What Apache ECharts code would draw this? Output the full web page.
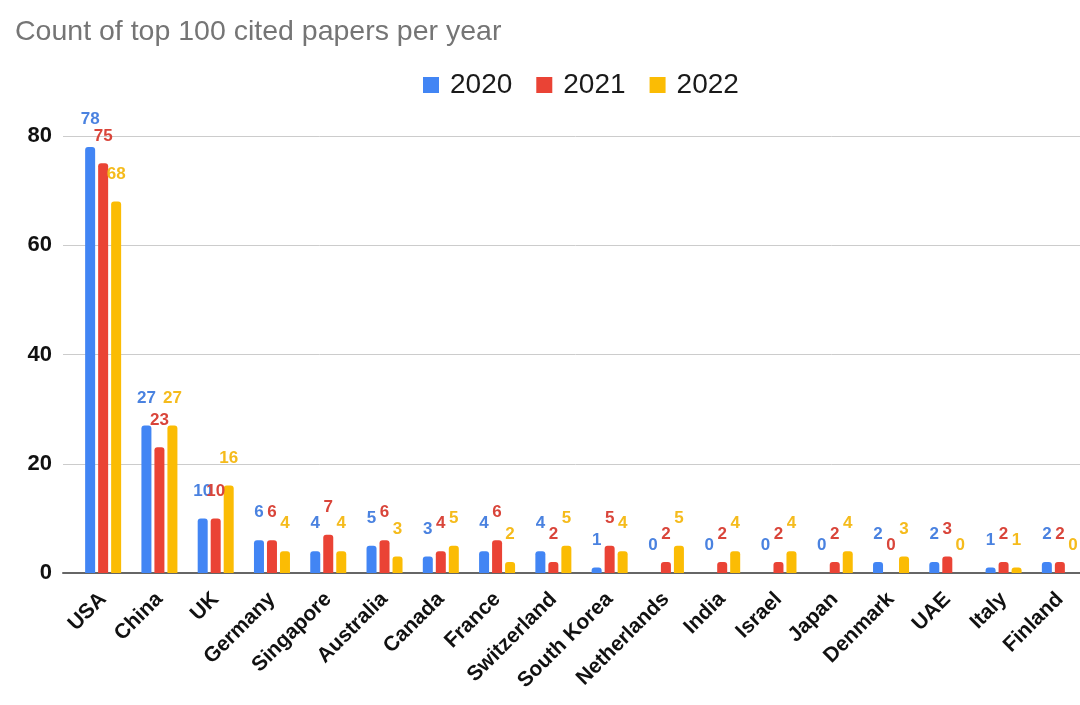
<!DOCTYPE html>
<html>
<head>
<meta charset="utf-8">
<script src="https://cdn.jsdelivr.net/npm/echarts@6/dist/echarts.min.js"></script>
<style>
html,body{margin:0;padding:0;background:#fff;overflow:hidden;width:1080px;height:705px;}
#chart{width:1090px;height:705px;}
</style>
</head>
<body>
<div id="chart"></div>
<script>
const categories = ["USA","China","UK","Germany","Singapore","Australia","Canada","France","Switzerland","South Korea","Netherlands","India","Israel","Japan","Denmark","UAE","Italy","Finland"];
const values2020 = [78,27,10,6,4,5,3,4,4,1,0,0,0,0,2,2,1,2];
const values2021 = [75,23,10,6,7,6,4,6,2,5,2,2,2,2,0,3,2,2];
const values2022 = [68,27,16,4,4,3,5,2,5,4,5,4,4,4,3,0,1,0];
const yTicks = [0,20,40,60,80];

const colors = ['#4285F4','#EA4335','#FBBC04'];
const labelColors = ['#4a82e0','#d9453a','#f5bb1c'];
const font = 'Arial, "Liberation Sans", sans-serif';
const yMin = yTicks[0], yMax = yTicks[yTicks.length-1], yStep = yTicks[1]-yTicks[0];

function series(name, data, color, labelColor){
  return {
    name: name,
    type: 'bar',
    data: data,
    xAxisIndex: 0, yAxisIndex: 0,
    barWidth: 10,
    barGap: '30%',
    itemStyle: {color: color, borderRadius: [3,3,0,0]},
    label: {
      show: true, position: 'top', distance: 19,
      color: labelColor, fontWeight: 'bold', fontSize: 17, fontFamily: font
    }
  };
}

const chart = echarts.init(document.getElementById('chart'), null, {renderer:'canvas'});
chart.setOption({
  animation: false,
  backgroundColor: '#fff',
  title: {
    text: 'Count of top 100 cited papers per year',
    left: 10, top: 13,
    textStyle: {color:'#757575', fontSize: 28.5, fontWeight: 'normal', fontFamily: font}
  },
  legend: {
    top: 66, left: 418,
    itemWidth: 16, itemHeight: 16, itemGap: 24,
    icon: 'rect',
    textStyle: {color:'#1a1a1a', fontSize: 28, fontFamily: font, padding:[0,0,0,6]},
    data: ['2020','2021','2022']
  },
  grid: [
    {left: 75, right: 2, top: 136, bottom: 132},
    {left: 63, right: 2, top: 136, bottom: 132}
  ],
  xAxis: [
    {
      type: 'category',
      gridIndex: 0,
      data: categories,
      axisTick: {show: false},
      axisLine: {show: false},
      axisLabel: {
        rotate: 45, interval: 0, margin: 23,
        color: '#111', fontWeight: 'bold', fontSize: 21, fontFamily: font
      }
    },
    {
      type: 'value',
      gridIndex: 1,
      min: 0, max: 1,
      axisTick: {show: false},
      axisLabel: {show: false},
      splitLine: {show: false},
      axisLine: {show: true, lineStyle: {color: '#666', width: 2}}
    }
  ],
  yAxis: [
    {
      type: 'value',
      gridIndex: 0,
      min: yMin, max: yMax, interval: yStep,
      axisLine: {show: false},
      axisTick: {show: false},
      splitLine: {show: false},
      axisLabel: {color:'#111', fontWeight:'bold', fontSize: 22, fontFamily: font, margin: 23}
    },
    {
      type: 'value',
      gridIndex: 1,
      min: yMin, max: yMax, interval: yStep,
      axisLine: {show: false},
      axisTick: {show: false},
      axisLabel: {show: false},
      splitLine: {lineStyle: {color: '#cccccc', width: 1}}
    }
  ],
  series: [
    series('2020', values2020, colors[0], labelColors[0]),
    series('2021', values2021, colors[1], labelColors[1]),
    series('2022', values2022, colors[2], labelColors[2])
  ]
});
</script>
</body>
</html>
